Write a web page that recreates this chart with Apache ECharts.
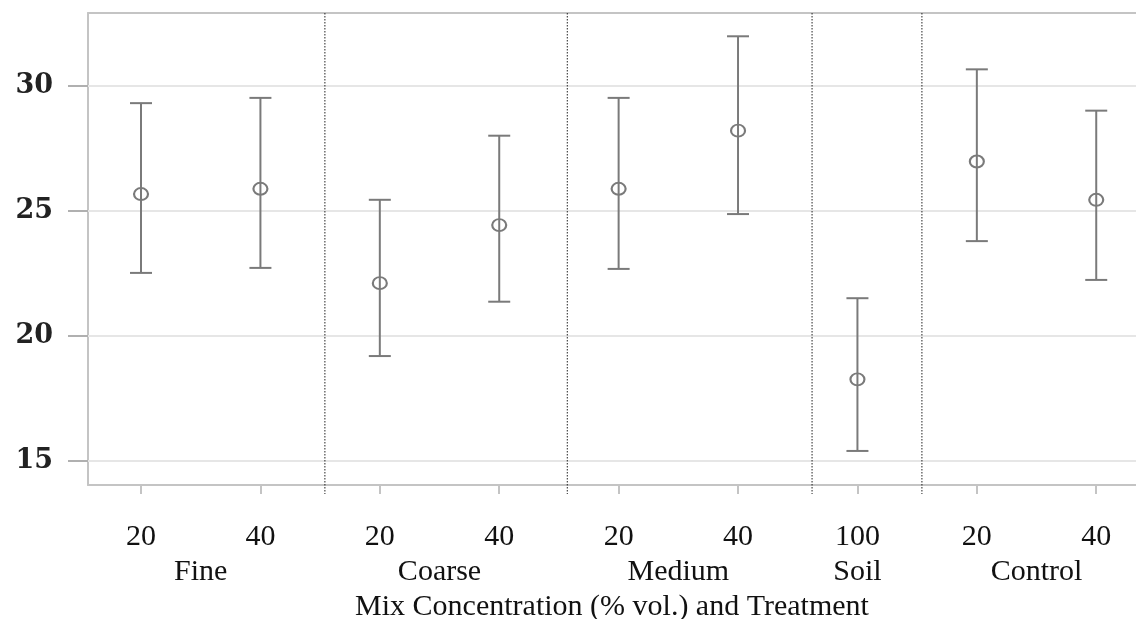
<!DOCTYPE html>
<html>
<head>
<meta charset="utf-8">
<script src="https://cdn.jsdelivr.net/npm/echarts@6/dist/echarts.min.js"></script>
<style>html,body{margin:0;padding:0;background:#fff}#c{width:1136px;height:619px}</style>
</head>
<body>
<div id="c"></div>
<script>
// ---- data ----
const concLabels = ['20', '40', '20', '40', '20', '40', '100', '20', '40'];
const treatment  = ['Fine', 'Fine', 'Coarse', 'Coarse', 'Medium', 'Medium', 'Soil', 'Control', 'Control'];
const means      = [25.67, 25.88, 22.11, 24.43, 25.88, 28.20, 18.27, 26.97, 25.44];
const upper      = [29.30, 29.51, 25.44, 28.00, 29.51, 31.97, 21.51, 30.65, 29.00];
const lower      = [22.52, 22.72, 19.20, 21.37, 22.68, 24.87, 15.41, 23.79, 22.24];
const separators = [1.54, 3.57, 5.62, 6.54];
const yTicks     = [15, 20, 25, 30];

// ---- derived ----
const idx = concLabels.map((_, i) => i);
const groups = [];
treatment.forEach((t, i) => {
  let g = groups.find(x => x.name === t);
  if (!g) { g = { name: t, idx: [] }; groups.push(g); }
  g.idx.push(i);
});
const groupMid = groups.map(g => g.idx.reduce((a, b) => a + b, 0) / g.idx.length);

const X_MIN = -0.444, X_MAX = 8.333, Y_MIN = 14.05, Y_MAX = 32.9;
const serif = "'Liberation Serif', 'DejaVu Serif', serif";
const axisGray = '#c4c4c4';
const barGray = '#7a7a7a';

const chart = echarts.init(document.getElementById('c'), null, { renderer: 'canvas' });
chart.setOption({
  animation: false,
  backgroundColor: '#fff',
  grid: { left: 88, right: 0, top: 13, bottom: 134, containLabel: false, outerBoundsMode: 'none' },
  xAxis: [
    {
      type: 'value', min: X_MIN, max: X_MAX, position: 'bottom',
      axisLine: { show: true, onZero: false, lineStyle: { color: axisGray, width: 2 } },
      axisTick: { show: true, customValues: idx, length: 9, lineStyle: { color: axisGray, width: 2 } },
      axisLabel: {
        customValues: idx, margin: 37,
        formatter: v => concLabels[Math.round(v)],
        fontFamily: serif, fontSize: 30, color: '#111'
      },
      splitLine: { show: false },
      name: 'Mix Concentration (% vol.) and Treatment',
      nameLocation: 'middle', nameGap: 107,
      nameTextStyle: { fontFamily: serif, fontSize: 30, color: '#111' }
    },
    {
      type: 'value', min: X_MIN, max: X_MAX, position: 'bottom',
      axisLine: { show: false, onZero: false }, axisTick: { show: false },
      axisLabel: {
        customValues: groupMid, margin: 72,
        formatter: v => { const k = groupMid.findIndex(m => Math.abs(m - v) < 1e-6); return k >= 0 ? groups[k].name : ''; },
        fontFamily: serif, fontSize: 30, color: '#111'
      },
      splitLine: { show: false }
    },
    {
      type: 'value', min: X_MIN, max: X_MAX, position: 'top',
      axisLine: { show: true, onZero: false, lineStyle: { color: axisGray, width: 2 } },
      axisTick: { show: false }, axisLabel: { show: false }, splitLine: { show: false }
    }
  ],
  yAxis: {
    type: 'value', min: Y_MIN, max: Y_MAX, position: 'left',
    axisLine: { show: true, onZero: false, lineStyle: { color: axisGray, width: 2 } },
    axisTick: { show: true, customValues: yTicks, length: 20, lineStyle: { color: '#b0b0b0', width: 2 } },
    axisLabel: {
      customValues: yTicks, margin: 35,
      fontFamily: "'DejaVu Serif'", fontWeight: 'bold', fontSize: 27, color: '#222'
    },
    splitLine: { show: false }
  },
  series: [
    {
      type: 'custom', name: 'separators', xAxisIndex: 0, yAxisIndex: 0, clip: false, silent: true, z: 3,
      data: separators.map(s => [s]),
      renderItem: (params, api) => {
        const top = api.coord([api.value(0), Y_MAX]);
        const bot = api.coord([api.value(0), Y_MIN]);
        return {
          type: 'line',
          shape: { x1: top[0], y1: top[1], x2: bot[0], y2: bot[1] + 9 },
          style: { stroke: '#222', lineWidth: 1, lineDash: [1.5, 1.5] }
        };
      }
    },
    {
      type: 'custom', name: 'errorbars', xAxisIndex: 0, yAxisIndex: 0, silent: true, z: 4,
      data: idx.map(i => [i, lower[i], upper[i]]),
      renderItem: (params, api) => {
        const lo = api.coord([api.value(0), api.value(1)]);
        const hi = api.coord([api.value(0), api.value(2)]);
        const hw = 11;
        const st = { stroke: barGray, lineWidth: 2 };
        return {
          type: 'group',
          children: [
            { type: 'line', shape: { x1: hi[0], y1: hi[1], x2: lo[0], y2: lo[1] }, style: st },
            { type: 'line', shape: { x1: hi[0] - hw, y1: hi[1], x2: hi[0] + hw, y2: hi[1] }, style: st },
            { type: 'line', shape: { x1: lo[0] - hw, y1: lo[1], x2: lo[0] + hw, y2: lo[1] }, style: st }
          ]
        };
      }
    },
    {
      type: 'scatter', name: 'means', xAxisIndex: 0, yAxisIndex: 0, z: 5,
      data: idx.map(i => [i, means[i]]),
      symbol: 'circle', symbolSize: [14, 12],
      itemStyle: { color: 'rgba(255,255,255,0)', borderColor: barGray, borderWidth: 2, opacity: 1 },
      emphasis: { disabled: true },
      markLine: {
        silent: true, symbol: ['none', 'none'], z: 1,
        label: { show: false },
        lineStyle: { color: '#e6e6e6', width: 2, type: 'solid' },
        emphasis: { disabled: true },
        data: yTicks.map(t => ({ yAxis: t }))
      }
    }
  ]
});
</script>
</body>
</html>
